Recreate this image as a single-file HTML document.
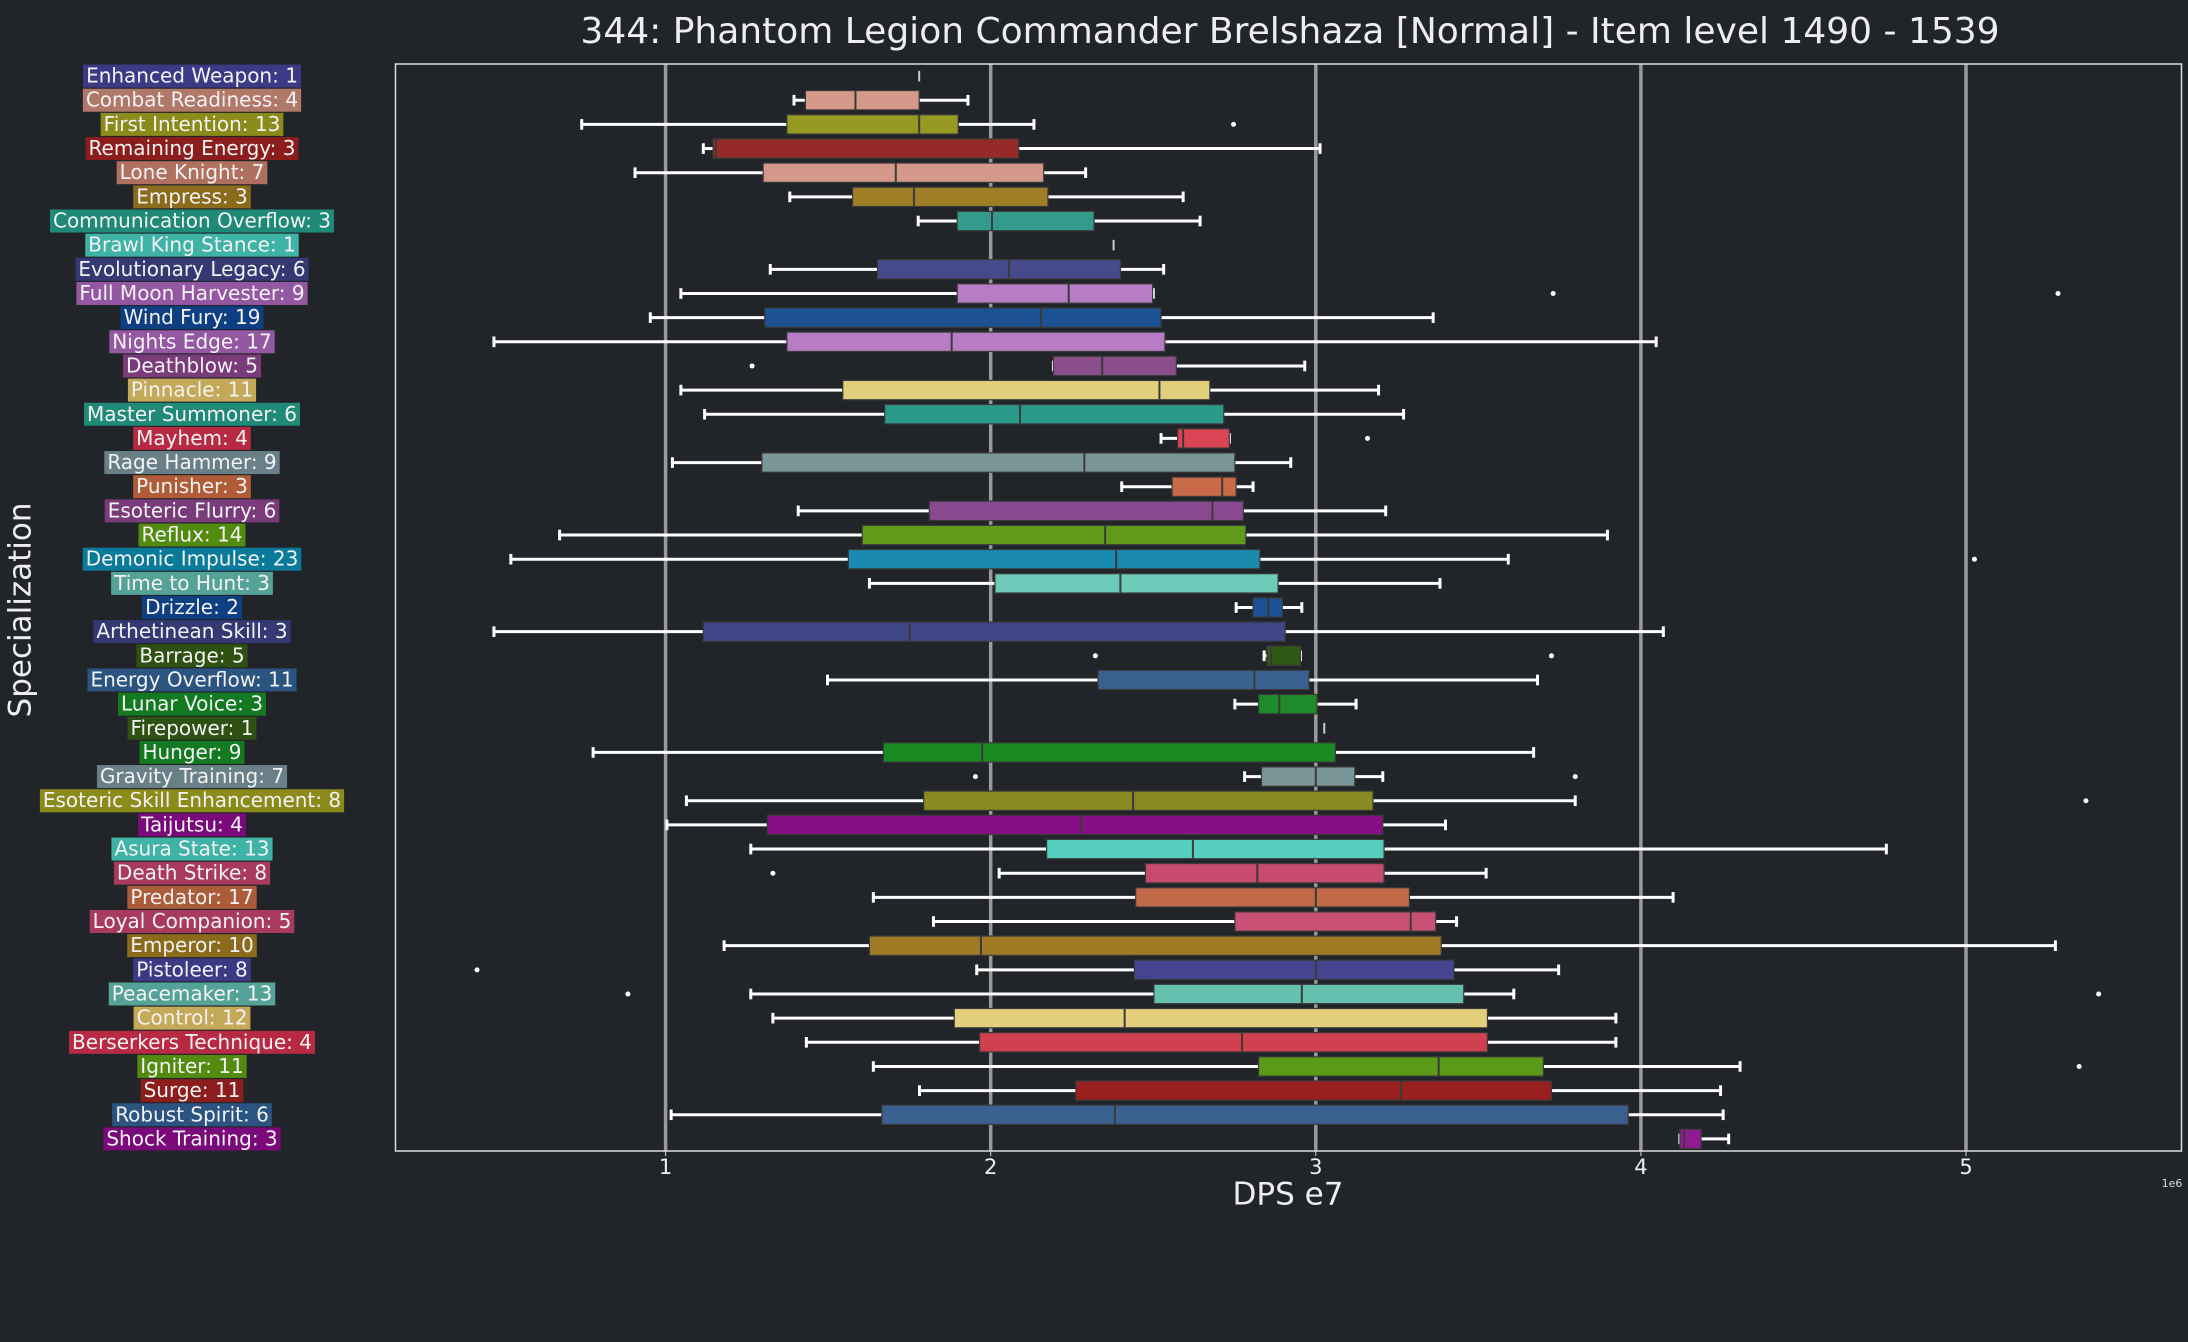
<!DOCTYPE html>
<html><head><meta charset="utf-8"><style>
html,body{margin:0;padding:0;background:#212429;}
svg{display:block;font-family:"Liberation Sans","DejaVu Sans",sans-serif;}
</style></head><body>
<svg id="chart" width="2188" height="1342" viewBox="0 0 2188 1342" xmlns="http://www.w3.org/2000/svg">
<rect x="0" y="0" width="2188" height="1342" fill="#212429"/>
<text x="1290" y="33" fill="#eeeeee" font-size="36" text-anchor="middle" dominant-baseline="middle" font-family="DejaVu Sans, sans-serif">344: Phantom Legion Commander Brelshaza [Normal] - Item level 1490 - 1539</text>
<g id="grid"></g>
<g id="marks"></g>
<rect x="395.5" y="64" width="1786" height="1087" fill="none" stroke="#dddddd" stroke-width="1.5"/>
<g id="xticks"></g>
<g id="labels"></g>
<text x="1288" y="1196" fill="#eeeeee" font-size="31" text-anchor="middle" dominant-baseline="middle" font-family="DejaVu Sans, sans-serif">DPS e7</text>
<text x="2172" y="1184" fill="#dddddd" font-size="11" text-anchor="middle" dominant-baseline="middle" font-family="DejaVu Sans, sans-serif">1e6</text>
<text transform="translate(22,610) rotate(-90)" fill="#eeeeee" font-size="31" text-anchor="middle" dominant-baseline="middle" font-family="DejaVu Sans, sans-serif">Specialization</text>
</svg>
<script>
const categories=["Enhanced Weapon: 1","Combat Readiness: 4","First Intention: 13","Remaining Energy: 3","Lone Knight: 7","Empress: 3","Communication Overflow: 3","Brawl King Stance: 1","Evolutionary Legacy: 6","Full Moon Harvester: 9","Wind Fury: 19","Nights Edge: 17","Deathblow: 5","Pinnacle: 11","Master Summoner: 6","Mayhem: 4","Rage Hammer: 9","Punisher: 3","Esoteric Flurry: 6","Reflux: 14","Demonic Impulse: 23","Time to Hunt: 3","Drizzle: 2","Arthetinean Skill: 3","Barrage: 5","Energy Overflow: 11","Lunar Voice: 3","Firepower: 1","Hunger: 9","Gravity Training: 7","Esoteric Skill Enhancement: 8","Taijutsu: 4","Asura State: 13","Death Strike: 8","Predator: 17","Loyal Companion: 5","Emperor: 10","Pistoleer: 8","Peacemaker: 13","Control: 12","Berserkers Technique: 4","Igniter: 11","Surge: 11","Robust Spirit: 6","Shock Training: 3"];
const whiskerLow=[1.78,1.395,0.742,1.116,0.906,1.382,1.777,2.378,1.322,1.047,0.953,0.472,2.193,1.047,1.12,2.524,1.021,2.403,1.408,0.674,0.524,1.627,2.755,0.472,2.841,1.498,2.751,3.026,0.777,2.781,1.064,1.004,1.262,2.026,1.639,1.824,1.18,1.957,1.262,1.33,1.433,1.639,1.781,1.017,4.12];
const q1=[1.78,1.43,1.373,1.146,1.30,1.575,1.897,2.378,1.652,1.897,1.305,1.373,2.193,1.545,1.674,2.575,1.296,2.558,1.811,1.605,1.562,2.013,2.807,1.116,2.850,2.330,2.824,3.026,1.67,2.833,1.794,1.313,2.172,2.476,2.446,2.751,1.627,2.442,2.502,1.888,1.966,2.824,2.262,1.665,4.12];
const median=[1.78,1.584,1.78,1.155,1.708,1.764,2.004,2.378,2.056,2.240,2.155,1.88,2.343,2.519,2.09,2.592,2.288,2.712,2.682,2.352,2.386,2.399,2.854,1.751,2.863,2.811,2.888,3.026,1.974,3.0,2.438,2.279,2.622,2.82,3.0,3.292,1.97,3.0,2.957,2.412,2.773,3.378,3.262,2.382,4.133];
const q3=[1.78,1.78,1.90,2.086,2.163,2.176,2.318,2.378,2.399,2.498,2.524,2.536,2.571,2.674,2.717,2.734,2.751,2.755,2.777,2.785,2.828,2.884,2.897,2.906,2.953,2.979,3.004,3.026,3.06,3.12,3.176,3.206,3.21,3.21,3.288,3.369,3.386,3.425,3.455,3.528,3.528,3.70,3.725,3.961,4.185];
const whiskerHigh=[1.78,1.93,2.133,3.013,2.292,2.592,2.644,2.378,2.532,2.50,3.361,4.047,2.966,3.193,3.27,2.734,2.923,2.807,3.215,3.897,3.592,3.382,2.957,4.069,2.953,3.682,3.124,3.026,3.67,3.206,3.798,3.399,4.755,3.524,4.099,3.433,5.275,3.747,3.609,3.923,3.923,4.305,4.245,4.253,4.27];
const outliers=[[],[],[2.747],[],[],[],[],[],[],[3.73,5.283],[],[],[1.266],[],[],[3.159],[],[],[],[],[5.026],[],[],[],[2.322,3.725],[],[],[],[],[1.953,3.798],[5.369],[],[],[1.33],[],[],[],[0.42],[0.884,5.408],[],[],[5.348],[],[],[]];
const labelColors=["#3d3a85","#b07868","#8b8b1c","#8b1d1d","#b07060","#8b6a1c","#1f8a78","#3fb3a6","#343873","#9458a3","#0e3f82","#9458a3","#7a3b7a","#c4a958","#1f8a78","#b82a43","#6a8088","#b05c38","#7a3b7a","#538a10","#0a7a9a","#55a398","#0e3f82","#343873","#2e5012","#2b5580","#137a22","#2e5012","#137a22","#6a8088","#8b8b1c","#7a0a7a","#3fb3a6","#a83a5e","#ab5c38","#a83a5e","#8b6a1c","#3d3a85","#55a398","#c4a958","#b82a43","#538a10","#8b1d1d","#2b5580","#7a0a7a"];
const boxColors=["#3d3a85","#d5998c","#979a22","#962a2a","#d5998c","#9e7e27","#339a8c","#3fb3a6","#464a8a","#b67cc4","#1c5294","#b67cc4","#8a4e8a","#e2cf7c","#2a9a8a","#d94555","#7a9598","#c96a48","#8a4890","#609a18","#1a8ab0","#6ecab8","#1c5294","#404585","#2e5a15","#3a6090","#1f8a2a","#2e5012","#1a8a22","#7a9598","#8a8a22","#880e88","#55cebe","#c84a70","#c06a48","#c85075","#a07b25","#45458f","#65c0b0","#e4cf7c","#d0404f","#5a9a18","#9a2020","#3a6090","#901a90"];
const xTicks=[1,2,3,4,5];

const NS="http://www.w3.org/2000/svg";
const plotTop=64, rowH=1087/45;
function xScale(v){return 665.6+(v-1)*325.1;}
function yScale(i){return plotTop+(i+0.5)*rowH;}
function mk(tag,attrs,parent){const e=document.createElementNS(NS,tag);for(const k in attrs)e.setAttribute(k,attrs[k]);parent.appendChild(e);return e;}

const grid=document.getElementById('grid'), marks=document.getElementById('marks'), xt=document.getElementById('xticks'), lab=document.getElementById('labels');
xTicks.forEach(t=>{
  const x=xScale(t);
  const g=mk('line',{x1:x,x2:x,y1:plotTop,y2:1151,stroke:'#9a9a9a','stroke-width':3.5},grid);
  
  
  const tk=mk('line',{x1:x,x2:x,y1:1151,y2:1156,stroke:'#dddddd','stroke-width':1},xt);
  
  
  const tx=mk('text',{x:x,y:1168,fill:'#eeeeee','font-size':21,'text-anchor':'middle','dominant-baseline':'middle','font-family':'DejaVu Sans, sans-serif'},xt);
  tx.textContent=String(t);
  
  
});

const boxH=rowH*0.8, capH=boxH*0.55;
categories.forEach((c,i)=>{
  const y=yScale(i);
  const g=mk('g',{},marks);
  
  
  const wl=xScale(whiskerLow[i]), a=xScale(q1[i]), m=xScale(median[i]), b=xScale(q3[i]), wh=xScale(whiskerHigh[i]);
  if(b-a<1 && wh-wl<1){
    const l=mk('line',{x1:m,x2:m,y1:y-capH/2,y2:y+capH/2,stroke:'#cccccc','stroke-width':2},g);
    
    
  } else {
    const w1=mk('line',{x1:wl,x2:a,y1:y,y2:y,stroke:'#ffffff','stroke-width':3},g);
    
    
    const w2=mk('line',{x1:b,x2:wh,y1:y,y2:y,stroke:'#ffffff','stroke-width':3},g);
    
    
    const c1=mk('line',{x1:wl,x2:wl,y1:y-capH/2,y2:y+capH/2,stroke:'#ffffff','stroke-width':3},g);
    
    
    const c2=mk('line',{x1:wh,x2:wh,y1:y-capH/2,y2:y+capH/2,stroke:'#ffffff','stroke-width':3},g);
    
    
    const r=mk('rect',{x:a,y:y-boxH/2,width:Math.max(b-a,1),height:boxH,fill:boxColors[i],stroke:'#3a3a3a','stroke-width':1.2},g);
    
    
    const md=mk('line',{x1:m,x2:m,y1:y-boxH/2,y2:y+boxH/2,stroke:'#3a3a3a','stroke-width':2},g);
    
    
  }
  outliers[i].forEach(v=>{
    const o=mk('circle',{cx:xScale(v),cy:y,r:2.5,fill:'#ffffff'},g);
    
    
  });
  const lg=mk('g',{},lab);
  
  
  const bg=mk('rect',{y:y-11.5,height:23,fill:labelColors[i]},lg);
  
  
  const t=mk('text',{x:192,y:y+1,fill:'#f2f2f2','font-size':20,'text-anchor':'middle','dominant-baseline':'middle','font-family':'DejaVu Sans, sans-serif'},lg);
  t.textContent=c;
  
  
  const w=t.getComputedTextLength();
  bg.setAttribute('x',192-w/2-3);
  bg.setAttribute('width',w+6);
});
</script>
</body></html>
